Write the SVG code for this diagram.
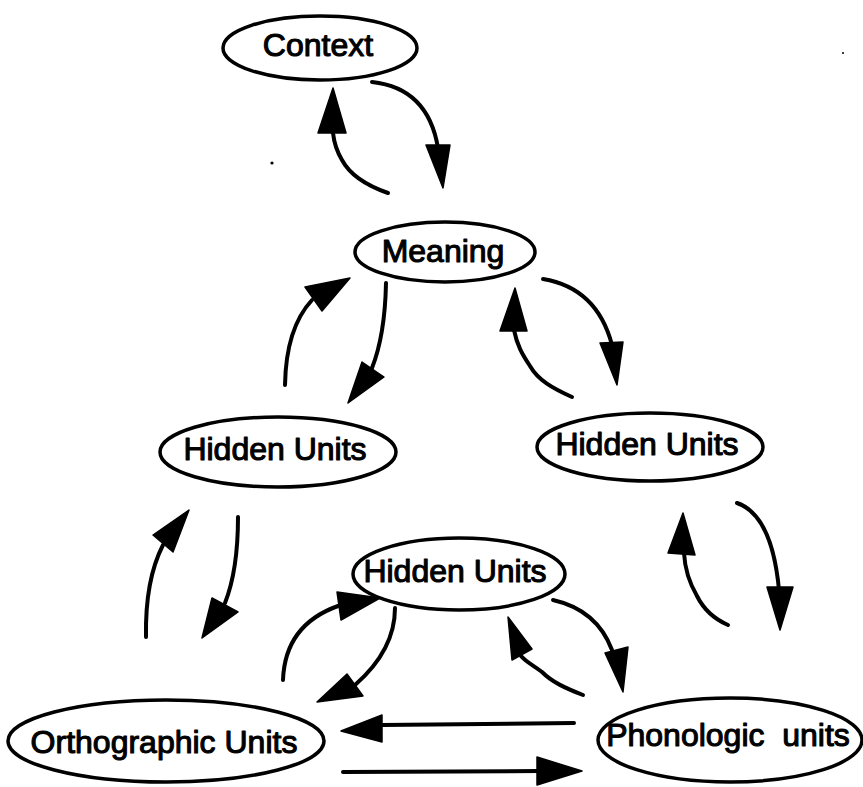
<svg xmlns="http://www.w3.org/2000/svg" width="863" height="787" viewBox="0 0 863 787">
<style>
.node ellipse{fill:#fff;stroke:#000;stroke-width:3.5}
.node text{font-family:"Liberation Sans",Arial,sans-serif;font-size:32px;fill:#000;stroke:#000;stroke-width:1.1;stroke-linejoin:round;text-anchor:middle}
.conn path{fill:none;stroke:#000;stroke-width:4;stroke-linecap:round}
.conn polygon{fill:#000;stroke:#000;stroke-width:1.5;stroke-linejoin:round}
</style>
<rect width="863" height="787" fill="#fff"/>
<g id="connectors" class="conn">
<path d="M388,193 C365,185 350,175 342,160 C336,150 334,142 333,133"/>
<polygon points="333,88 318,133 346,133"/>
<path d="M372,82 Q428,88 438,148"/>
<polygon points="443,188 426,145 450,145"/>
<path d="M285,385 Q286,328 312,300"/>
<polygon points="350,278 305,287 322,311"/>
<path d="M386,283 Q385,335 372,368"/>
<polygon points="348,403 362,362 384,377"/>
<path d="M572,397 C552,388 538,380 530,366 C522,354 517,345 514,330"/>
<polygon points="515,288 500,331 527,331"/>
<path d="M543,279 Q597,288 612,345"/>
<polygon points="617,385 600,343 623,342"/>
<path d="M146,637 Q145,580 163,545"/>
<polygon points="189,510 153,535 173,552"/>
<path d="M238,517 Q238,570 225,603"/>
<polygon points="202,638 212,598 238,612"/>
<path d="M283,680 Q285,625 338,606"/>
<polygon points="380,598 337,592 341,620"/>
<path d="M395,608 Q395,650 355,685"/>
<polygon points="317,702 347,674 363,696"/>
<path d="M382,725 L574,723"/>
<polygon points="341,731 382,715 382,742"/>
<path d="M343,772 L540,771"/>
<polygon points="582,771 537,757 537,785"/>
<path d="M553,600 Q597,610 612,650"/>
<polygon points="623,692 605,653 628,647"/>
<path d="M583,695 C565,688 552,682 542,672 C533,665 526,662 521,656"/>
<polygon points="508,617 512,660 532,649"/>
<path d="M737,503 Q772,515 779,590"/>
<polygon points="780,630 767,587 793,587"/>
<path d="M728,625 C712,618 703,608 697,596 C690,584 685,572 684,553"/>
<polygon points="683,513 668,553 695,555"/>
</g>
<circle cx="272" cy="163" r="1.6" fill="#000"/>
<circle cx="843" cy="53" r="1" fill="#000"/>
<g id="context" class="node">
<ellipse cx="320" cy="48" rx="97" ry="32"/>
<text x="318" y="56">Context</text>
</g>
<g id="meaning" class="node">
<ellipse cx="445" cy="252" rx="90" ry="30"/>
<text x="443" y="262">Meaning</text>
</g>
<g id="hidden-left" class="node">
<ellipse cx="278" cy="452" rx="118" ry="35"/>
<text x="275" y="460">Hidden Units</text>
</g>
<g id="hidden-right" class="node">
<ellipse cx="650" cy="447" rx="113" ry="34"/>
<text x="647" y="455">Hidden Units</text>
</g>
<g id="hidden-bottom" class="node">
<ellipse cx="459" cy="574" rx="106" ry="36"/>
<text x="455" y="582">Hidden Units</text>
</g>
<g id="orthographic" class="node">
<ellipse cx="166" cy="741" rx="158" ry="41"/>
<text x="164" y="753">Orthographic Units</text>
</g>
<g id="phonologic" class="node">
<ellipse cx="730" cy="740" rx="132" ry="42"/>
<text x="728" y="746" xml:space="preserve">Phonologic  units</text>
</g>
</svg>
